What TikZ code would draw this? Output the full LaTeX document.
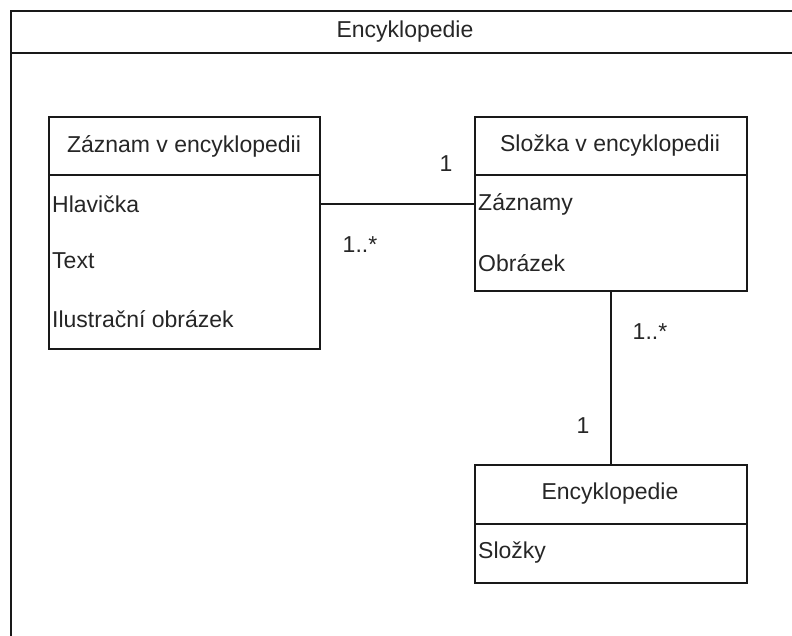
\documentclass[tikz,border=0pt]{standalone}
\usepackage{fontspec}
\setmainfont{Liberation Sans}
\begin{document}
\begin{tikzpicture}[x=1pt,y=-1pt,
  every node/.style={font=\fontsize{23}{27}\selectfont, text=black!85, inner sep=0pt},
  boxpart/.style={draw=black!90, line width=1.5pt, minimum width=272pt, anchor=north west},
  attr/.style={anchor=west},
  conn/.style={draw=black!90, line width=1.5pt},
  mult/.style={}]
\useasboundingbox (0,0) rectangle (792,635);
\clip (0,0) rectangle (792,635);
% outer frame
\node[draw=black!90, line width=1.5pt, minimum width=790pt, minimum height=650pt, anchor=north west] (frame) at (10,10) {};
\coordinate (sepL) at (10,53);
\coordinate (sepR) at (800,53);
\draw[conn] (sepL) -- (sepR);
\node (ftitle) at (405,32) {Encyklopedie};
% Zaznam
\node[boxpart, minimum width=271pt, minimum height=58pt] (ah) at (48,116) {};
\node (aht) at (184,146) {Záznam v encyklopedii};
\node[boxpart, minimum width=271pt, minimum height=174pt] (ab) at (48,174) {};
\node[attr] (a1) at (52,204) {Hlavička};
\node[attr] (a2) at (52,261) {Text};
\node[attr] (a3) at (52,319) {Ilustrační obrázek};
% Slozka
\node[boxpart, minimum height=58pt] (bh) at (474,116) {};
\node (bht) at (610,146) {Složka v encyklopedii};
\node[boxpart, minimum height=116pt] (bb) at (474,174) {};
\node[attr] (b1) at (478,204) {Záznamy};
\node[attr] (b2) at (478,263) {Obrázek};
% Encyklopedie
\node[boxpart, minimum height=59pt] (ch) at (474,464) {};
\node (cht) at (610,494) {Encyklopedie};
\node[boxpart, minimum height=59pt] (cb) at (474,523) {};
\node[attr] (c1) at (478,553) {Složky};
% connectors
\draw[conn] (ab.east |- a1) -- (bb.west |- a1);
\draw[conn] (bb.south) -- (ch.north);
% multiplicities
\node[mult] (m1) at (446,164) {1};
\node[mult] (m2) at (360,245) {1..*};
\node[mult] (m3) at (650,332) {1..*};
\node[mult] (m4) at (583,426) {1};
\end{tikzpicture}
\end{document}
